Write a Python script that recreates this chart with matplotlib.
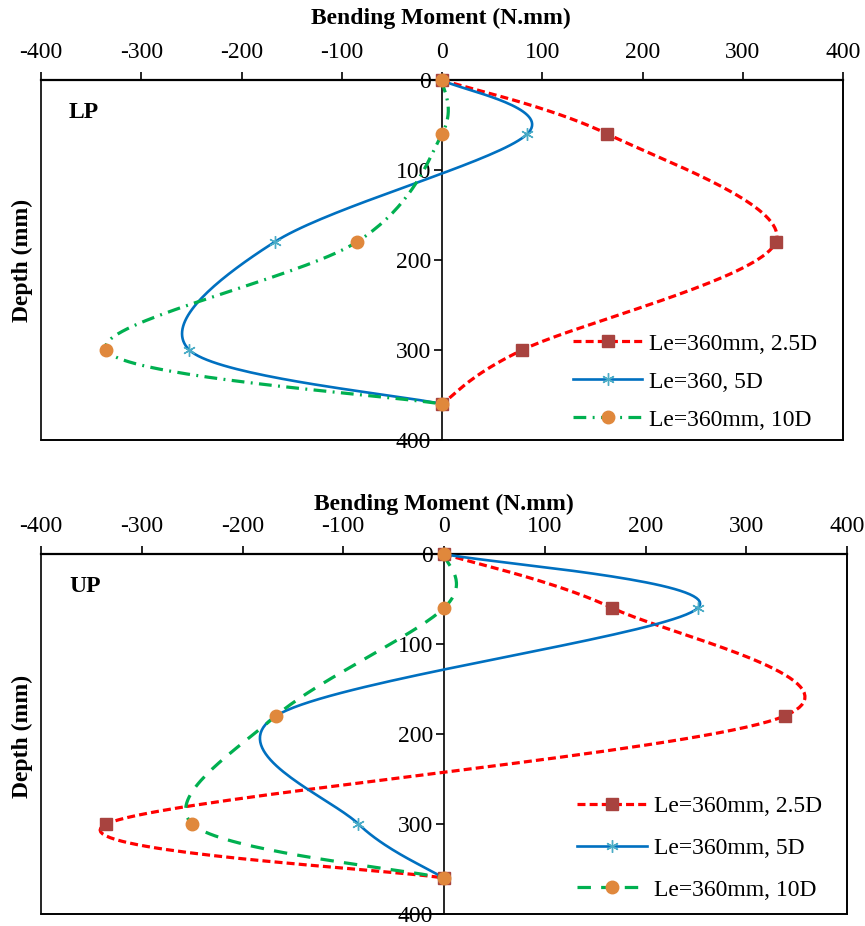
import numpy as np
import matplotlib
matplotlib.use("Agg")
import matplotlib.pyplot as plt
from matplotlib.lines import Line2D
from matplotlib.patches import Rectangle

plt.rcParams['font.family'] = ['Liberation Serif', 'DejaVu Serif']
plt.rcParams['axes.unicode_minus'] = False

depth = [0, 60, 180, 300, 360]
x_ticks = [-400, -300, -200, -100, 0, 100, 200, 300, 400]
y_ticks = [0, 100, 200, 300, 400]

# LP panel
lp_25D = [0, 165, 333, 80, 0]
lp_5D = [0, 85, -167, -252, 0]
lp_10D = [0, 0, -85, -335, 0]
# UP panel
up_25D = [0, 167, 338, -335, 0]
up_5D = [0, 252, -167, -85, 0]
up_10D = [0, 0, -167, -250, 0]

lp_labels = ["Le=360mm, 2.5D", "Le=360, 5D", "Le=360mm, 10D"]
up_labels = ["Le=360mm, 2.5D", "Le=360mm, 5D", "Le=360mm, 10D"]

RED, SQ = "#FF0000", "#A8433F"
BLUE, AST = "#0070C0", "#4BACC6"
GREEN, ORG = "#00B050", "#E0883C"
FS = 17


def smooth(xs, ys, n=40, ysc=0.9):
    P = np.column_stack([np.asarray(xs, float), np.asarray(ys, float) * ysc])
    E = np.vstack([P[0], P, P[-1]])
    out = []
    for i in range(len(P) - 1):
        p0, p1, p2, p3 = E[i], E[i + 1], E[i + 2], E[i + 3]
        c1 = p1 + (p2 - p0) / 6.0
        c2 = p2 - (p3 - p1) / 6.0
        t = np.linspace(0, 1, n)[:, None]
        seg = (1 - t) ** 3 * p1 + 3 * (1 - t) ** 2 * t * c1 + 3 * (1 - t) * t ** 2 * c2 + t ** 3 * p2
        out.append(seg if i == 0 else seg[1:])
    S = np.vstack(out)
    return S[:, 0], S[:, 1] / ysc


fig = plt.figure(figsize=(8.65, 9.26), dpi=100)
W, H = 865, 926


def make_ax(l, r, t, b):
    return fig.add_axes([l / W, 1 - b / H, (r - l) / W, (b - t) / H])


def draw(ax, s25, s5, s10, labels, tag, green_ls, leg_xy, lspace):
    ax.set_xlim(-400, 400)
    ax.set_ylim(400, 0)
    ax.set_xticks(x_ticks)
    ax.set_yticks(y_ticks)
    ax.xaxis.tick_top()
    ax.spines['left'].set_position(('data', 0))
    ax.spines['left'].set_linewidth(1.2)
    ax.spines['top'].set_linewidth(1.6)
    for s in ['right', 'bottom']:
        ax.spines[s].set_linewidth(1.2)
    ax.add_patch(Rectangle((0, 0), 1, 1, transform=ax.transAxes, fill=False,
                           lw=1.2, ec='black', zorder=0.5, clip_on=False))
    ax.tick_params(axis='x', direction='out', length=6, width=1.2, labelsize=FS, pad=6)
    ax.tick_params(axis='y', direction='out', length=6, width=1.2, labelsize=FS, pad=2)

    red_ls = (0, (2.5, 1.3))
    specs = [
        (s25, RED, red_ls, 2.3, 's', SQ, 8.5, 1),
        (s5, BLUE, '-', 1.9, (6, 2, 0), AST, 9, 1.0),
        (s10, GREEN, green_ls, 2.3, 'o', ORG, 9, 1),
    ]
    handles = []
    for vals, lc, ls, lw, mk, mc, ms, mew in specs:
        sx, sy = smooth(vals, depth)
        ax.plot(sx, sy, color=lc, ls=ls, lw=lw, zorder=3, clip_on=False)
        ax.plot(vals, depth, ls='none', marker=mk, color=mc, mec=mc, ms=ms,
                mew=mew, zorder=4, clip_on=False)
        handles.append(Line2D([], [], color=lc, ls=ls, lw=lw, marker=mk, mfc=mc,
                              mec=mc, ms=ms, mew=mew))
    ax.legend(handles, labels, loc='upper left', bbox_to_anchor=leg_xy,
              frameon=False, fontsize=FS, borderpad=0, borderaxespad=0,
              handlelength=2.95, handletextpad=0.3, labelspacing=lspace,
              numpoints=1)
    ax.text(0.035, 0.91, tag, transform=ax.transAxes, fontsize=FS,
            fontweight='bold', ha='left', va='center')


ax1 = make_ax(41, 843, 80, 440)
draw(ax1, lp_25D, lp_5D, lp_10D, lp_labels, "LP", (0, (4, 2, 0.6, 2)),
     (0.663, 0.297), 0.70)
ax2 = make_ax(41, 847, 554, 914)
draw(ax2, up_25D, up_5D, up_10D, up_labels, "UP", (0, (4.2, 3.2)),
     (0.665, 0.328), 0.85)

fig.text(441 / W, 1 - 18 / H, "Bending Moment (N.mm)", ha='center', va='center',
         fontsize=FS, fontweight='bold')
fig.text(444 / W, 1 - 504 / H, "Bending Moment (N.mm)", ha='center', va='center',
         fontsize=FS, fontweight='bold')
fig.text(22 / W, 1 - 260 / H, "Depth (mm)", rotation=90, ha='center', va='center',
         fontsize=FS, fontweight='bold')
fig.text(22 / W, 1 - 736 / H, "Depth (mm)", rotation=90, ha='center', va='center',
         fontsize=FS, fontweight='bold')

fig.savefig("out.png", dpi=100)
